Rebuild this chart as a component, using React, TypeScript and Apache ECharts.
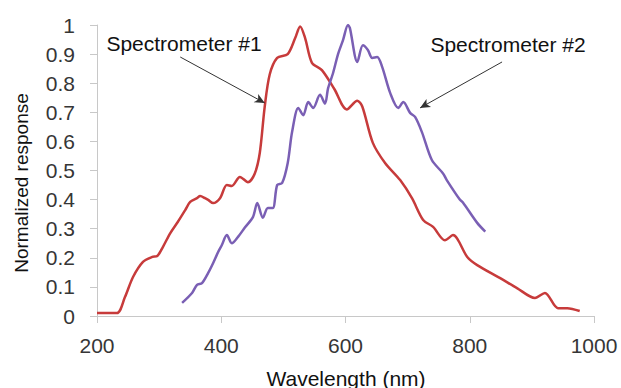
import React, { useEffect, useRef } from "react";
import * as echarts from "echarts";

const xTicks = [200, 400, 600, 800, 1000];
const yTicks = [0, 0.1, 0.2, 0.3, 0.4, 0.5, 0.6, 0.7, 0.8, 0.9, 1];

const spec1X = [200, 232, 245, 258, 274, 289, 297, 306, 318, 330, 342, 350, 361, 366, 374, 379, 387, 398, 409, 417, 430, 443, 454, 462, 470, 478, 490, 507, 519, 527, 535, 546, 562, 582, 602, 619, 627, 644, 664, 688, 707, 725, 741, 760, 773, 796, 812, 849, 876, 905, 921, 942, 957, 977];
const spec1Y = [0.01, 0.01, 0.065, 0.134, 0.186, 0.203, 0.206, 0.237, 0.285, 0.323, 0.364, 0.392, 0.405, 0.412, 0.405, 0.399, 0.388, 0.405, 0.45, 0.447, 0.478, 0.46, 0.49, 0.56, 0.72, 0.83, 0.887, 0.9, 0.955, 0.995, 0.955, 0.87, 0.845, 0.78, 0.71, 0.74, 0.72, 0.595, 0.525, 0.467, 0.405, 0.33, 0.306, 0.26, 0.278, 0.203, 0.175, 0.13, 0.096, 0.062, 0.079, 0.027, 0.027, 0.017];

const spec2X = [337, 353, 361, 369, 379, 387, 395, 401, 409, 417, 427, 438, 451, 458, 467, 475, 483, 490, 498, 507, 514, 524, 532, 540, 548, 559, 567, 572, 580, 588, 596, 604, 607, 619, 628, 636, 643, 651, 659, 672, 685, 693, 704, 712, 723, 739, 757, 763, 784, 789, 812, 825];
const spec2Y = [0.045, 0.079, 0.107, 0.113, 0.148, 0.182, 0.22, 0.244, 0.278, 0.25, 0.272, 0.304, 0.34, 0.388, 0.338, 0.371, 0.371, 0.45, 0.457, 0.526, 0.632, 0.715, 0.69, 0.735, 0.715, 0.76, 0.73, 0.783, 0.835, 0.9, 0.948, 1.0, 0.99, 0.873, 0.93, 0.914, 0.887, 0.89, 0.856, 0.766, 0.715, 0.735, 0.698, 0.684, 0.632, 0.536, 0.49, 0.467, 0.4, 0.39, 0.32, 0.29];

const labels = ["Spectrometer #1", "Spectrometer #2"];
// arrow start/end in data coordinates
const arrow1 = [[334, 0.89], [470, 0.732]];
const arrow2 = [[852, 0.873], [720, 0.715]];

const FONT = "'Liberation Sans', Arial, sans-serif";

export default function App() {
  const ref = useRef<HTMLDivElement>(null);
  useEffect(() => {
    const chart = echarts.init(ref.current!, null, { renderer: "svg" });
    const arrowLine = (pts: number[][]) => ({
      symbol: ["none", "arrow"],
      symbolSize: [7, 10],
      silent: true,
      label: { show: false },
      lineStyle: { color: "#333", width: 1, type: "solid" },
      data: [[{ coord: pts[0] }, { coord: pts[1] }]],
    });
    chart.setOption({
      animation: false,
      backgroundColor: "#fff",
      grid: { left: 97, right: 27, top: 25, bottom: 72 },
      xAxis: {
        type: "value",
        min: 200,
        max: 1000,
        interval: 200,
        axisLine: { show: true, lineStyle: { color: "#c8c8c8", width: 1 } },
        axisTick: { show: true, length: 7, lineStyle: { color: "#c8c8c8" } },
        splitLine: { show: false },
        axisLabel: {
          color: "#363636",
          fontSize: 21,
          fontFamily: FONT,
          margin: 19,
          formatter: (v: number) => (xTicks.includes(v) ? String(v) : ""),
        },
      },
      yAxis: {
        type: "value",
        min: 0,
        max: 1,
        interval: 0.1,
        axisLine: { show: true, lineStyle: { color: "#c8c8c8", width: 1 } },
        axisTick: { show: true, length: 7, lineStyle: { color: "#c8c8c8" } },
        splitLine: { show: false },
        axisLabel: {
          color: "#363636",
          fontSize: 21,
          fontFamily: FONT,
          margin: 22,
          formatter: (v: number) => {
            const t = yTicks.find((k) => Math.abs(k - v) < 1e-6);
            return t === undefined ? "" : String(Math.round(t * 10) / 10);
          },
        },
      },
      graphic: [
        {
          type: "text",
          x: 21,
          y: 183,
          rotation: Math.PI / 2,
          style: {
            text: "Normalized response",
            fill: "#111",
            font: `19px ${FONT}`,
            align: "center",
            verticalAlign: "middle",
          },
        },
        {
          type: "text",
          x: 346,
          y: 378,
          style: {
            text: "Wavelength (nm)",
            fill: "#111",
            font: `21px ${FONT}`,
            align: "center",
            verticalAlign: "middle",
          },
        },
        {
          type: "text",
          x: 184,
          y: 43,
          style: {
            text: labels[0],
            fill: "#111",
            font: `21px ${FONT}`,
            align: "center",
            verticalAlign: "middle",
          },
        },
        {
          type: "text",
          x: 508,
          y: 44,
          style: {
            text: labels[1],
            fill: "#111",
            font: `21px ${FONT}`,
            align: "center",
            verticalAlign: "middle",
          },
        },
      ],
      series: [
        {
          name: labels[0],
          type: "line",
          data: spec1X.map((x, i) => [x, spec1Y[i]]),
          showSymbol: false,
          smooth: 0.3,
          lineStyle: { color: "#c73b3b", width: 2.5 },
          itemStyle: { color: "#c73b3b" },
          markLine: arrowLine(arrow1),
        },
        {
          name: labels[1],
          type: "line",
          data: spec2X.map((x, i) => [x, spec2Y[i]]),
          showSymbol: false,
          smooth: 0.3,
          lineStyle: { color: "#7a5fb4", width: 2.5 },
          itemStyle: { color: "#7a5fb4" },
          markLine: arrowLine(arrow2),
        },
      ],
    });
    return () => chart.dispose();
  }, []);
  return <div ref={ref} style={{ width: 621, height: 388, position: "fixed", left: 0, top: 0 }} />;
}
